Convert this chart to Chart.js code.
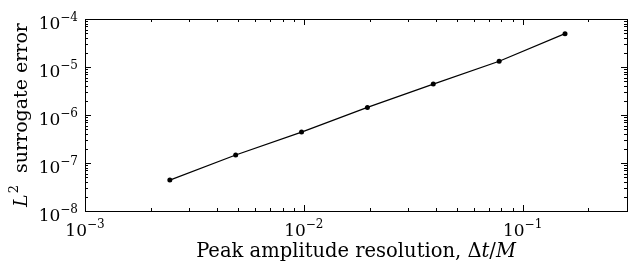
<!DOCTYPE html>
<html>
<head>
<meta charset="utf-8">
<script src="https://cdn.jsdelivr.net/npm/chart.js@4/dist/chart.umd.min.js"></script>
<style>
  html, body { margin: 0; padding: 0; background: #fff; overflow: hidden; }
  #wrap { position: relative; width: 631px; height: 266px; }
</style>
</head>
<body>
<div id="wrap"><canvas id="errChart"></canvas></div>
<script>
// data
const dtValues = [0.00244140625, 0.0048828125, 0.009765625, 0.01953125, 0.0390625, 0.078125, 0.15625];
const errValues = [4.4e-8, 1.47e-7, 4.4e-7, 1.44e-6, 4.4e-6, 1.32e-5, 4.95e-5];
const xTickExps = [-3, -2, -1];
const yTickExps = [-8, -7, -6, -5, -4];

const SERIF = '"DejaVu Serif", serif';

// draws "10" with a raised exponent, anchored by align
function drawPow(ctx, exp, x, y, align) {
  const base = '10', sup = '\u2212' + Math.abs(exp);
  ctx.font = '17px ' + SERIF;
  const wb = ctx.measureText(base).width;
  ctx.font = '12px ' + SERIF;
  const ws = ctx.measureText(sup).width;
  const w = wb + ws;
  let x0 = x;
  if (align === 'center') x0 = x - w / 2;
  else if (align === 'right') x0 = x - w;
  ctx.textAlign = 'left';
  ctx.textBaseline = 'alphabetic';
  ctx.font = '17px ' + SERIF;
  ctx.fillText(base, x0, y);
  ctx.font = '12px ' + SERIF;
  ctx.fillText(sup, x0 + wb, y - 8);
}

// frame, inward log ticks, tick labels and axis titles
const axesPlugin = {
  id: 'mplAxes',
  afterDraw(chart) {
    const ctx = chart.ctx;
    const a = chart.chartArea;
    const xs = chart.scales.x, ys = chart.scales.y;
    ctx.save();
    ctx.strokeStyle = '#000';
    ctx.fillStyle = '#000';
    ctx.lineWidth = 1;
    ctx.strokeRect(Math.round(a.left) + 0.5, Math.round(a.top) + 0.5,
      Math.round(a.right - a.left), Math.round(a.bottom - a.top));

    ctx.beginPath();
    for (let e = -3; e <= -1; e++) {
      for (let m = 1; m <= 9; m++) {
        const v = m * Math.pow(10, e);
        if (v < xs.min || v > xs.max) continue;
        const px = Math.round(xs.getPixelForValue(v)) + 0.5;
        const len = m === 1 ? 6 : 3;
        ctx.moveTo(px, a.bottom); ctx.lineTo(px, a.bottom - len);
        ctx.moveTo(px, a.top); ctx.lineTo(px, a.top + len);
      }
    }
    for (let e = -8; e <= -4; e++) {
      for (let m = 1; m <= 9; m++) {
        const v = m * Math.pow(10, e);
        if (v < ys.min * 0.999 || v > ys.max * 1.001) continue;
        const py = Math.round(ys.getPixelForValue(v)) + 0.5;
        const len = m === 1 ? 6 : 3;
        ctx.moveTo(a.left, py); ctx.lineTo(a.left + len, py);
        ctx.moveTo(a.right, py); ctx.lineTo(a.right - len, py);
      }
    }
    ctx.stroke();

    xTickExps.forEach(e => {
      drawPow(ctx, e, xs.getPixelForValue(Math.pow(10, e)), a.bottom + 25, 'center');
    });
    yTickExps.forEach(e => {
      drawPow(ctx, e, a.left - 7, ys.getPixelForValue(Math.pow(10, e)) + 10, 'right');
    });

    // x title
    const parts = [
      ['Peak amplitude resolution, \u0394', ''],
      ['t', 'italic '],
      ['/', ''],
      ['M', 'italic ']
    ];
    let total = 0;
    parts.forEach(p => { ctx.font = p[1] + '19.5px ' + SERIF; total += ctx.measureText(p[0]).width; });
    let cx = (a.left + a.right) / 2 - total / 2;
    parts.forEach(p => {
      ctx.font = p[1] + '19.5px ' + SERIF;
      ctx.fillText(p[0], cx, 257);
      cx += ctx.measureText(p[0]).width;
    });

    // y title (rotated)
    ctx.translate(27, (a.top + a.bottom) / 2);
    ctx.rotate(-Math.PI / 2);
    ctx.font = 'italic 19px ' + SERIF;
    const wL = ctx.measureText('L').width + 1;
    ctx.font = '13px ' + SERIF;
    const w2 = ctx.measureText('2').width;
    ctx.font = '19px ' + SERIF;
    const rest = '  surrogate error';
    const wr = ctx.measureText(rest).width;
    let tx = -(wL + w2 + wr) / 2;
    ctx.font = 'italic 19px ' + SERIF;
    ctx.fillText('L', tx, 0);
    tx += wL;
    ctx.font = '13px ' + SERIF;
    ctx.fillText('2', tx, -9);
    tx += w2;
    ctx.font = '19px ' + SERIF;
    ctx.fillText(rest, tx, 0);
    ctx.restore();
  }
};

const errChart = new Chart(document.getElementById('errChart'), {
  type: 'line',
  data: {
    datasets: [{
      data: dtValues.map((x, i) => ({ x: x, y: errValues[i] })),
      borderColor: '#000',
      backgroundColor: '#000',
      borderWidth: 1.2,
      pointRadius: 2.5,
      pointBorderWidth: 0,
      tension: 0
    }]
  },
  options: {
    responsive: true,
    maintainAspectRatio: false,
    animation: false,
    layout: { padding: { left: 85, top: 19, right: 1, bottom: 55 } },
    plugins: { legend: { display: false }, tooltip: { enabled: false } },
    scales: {
      x: { type: 'logarithmic', min: 0.001, max: 0.3, display: false },
      y: { type: 'logarithmic', min: 1e-8, max: 1e-4, display: false }
    }
  },
  plugins: [axesPlugin]
});
</script>
</body>
</html>
